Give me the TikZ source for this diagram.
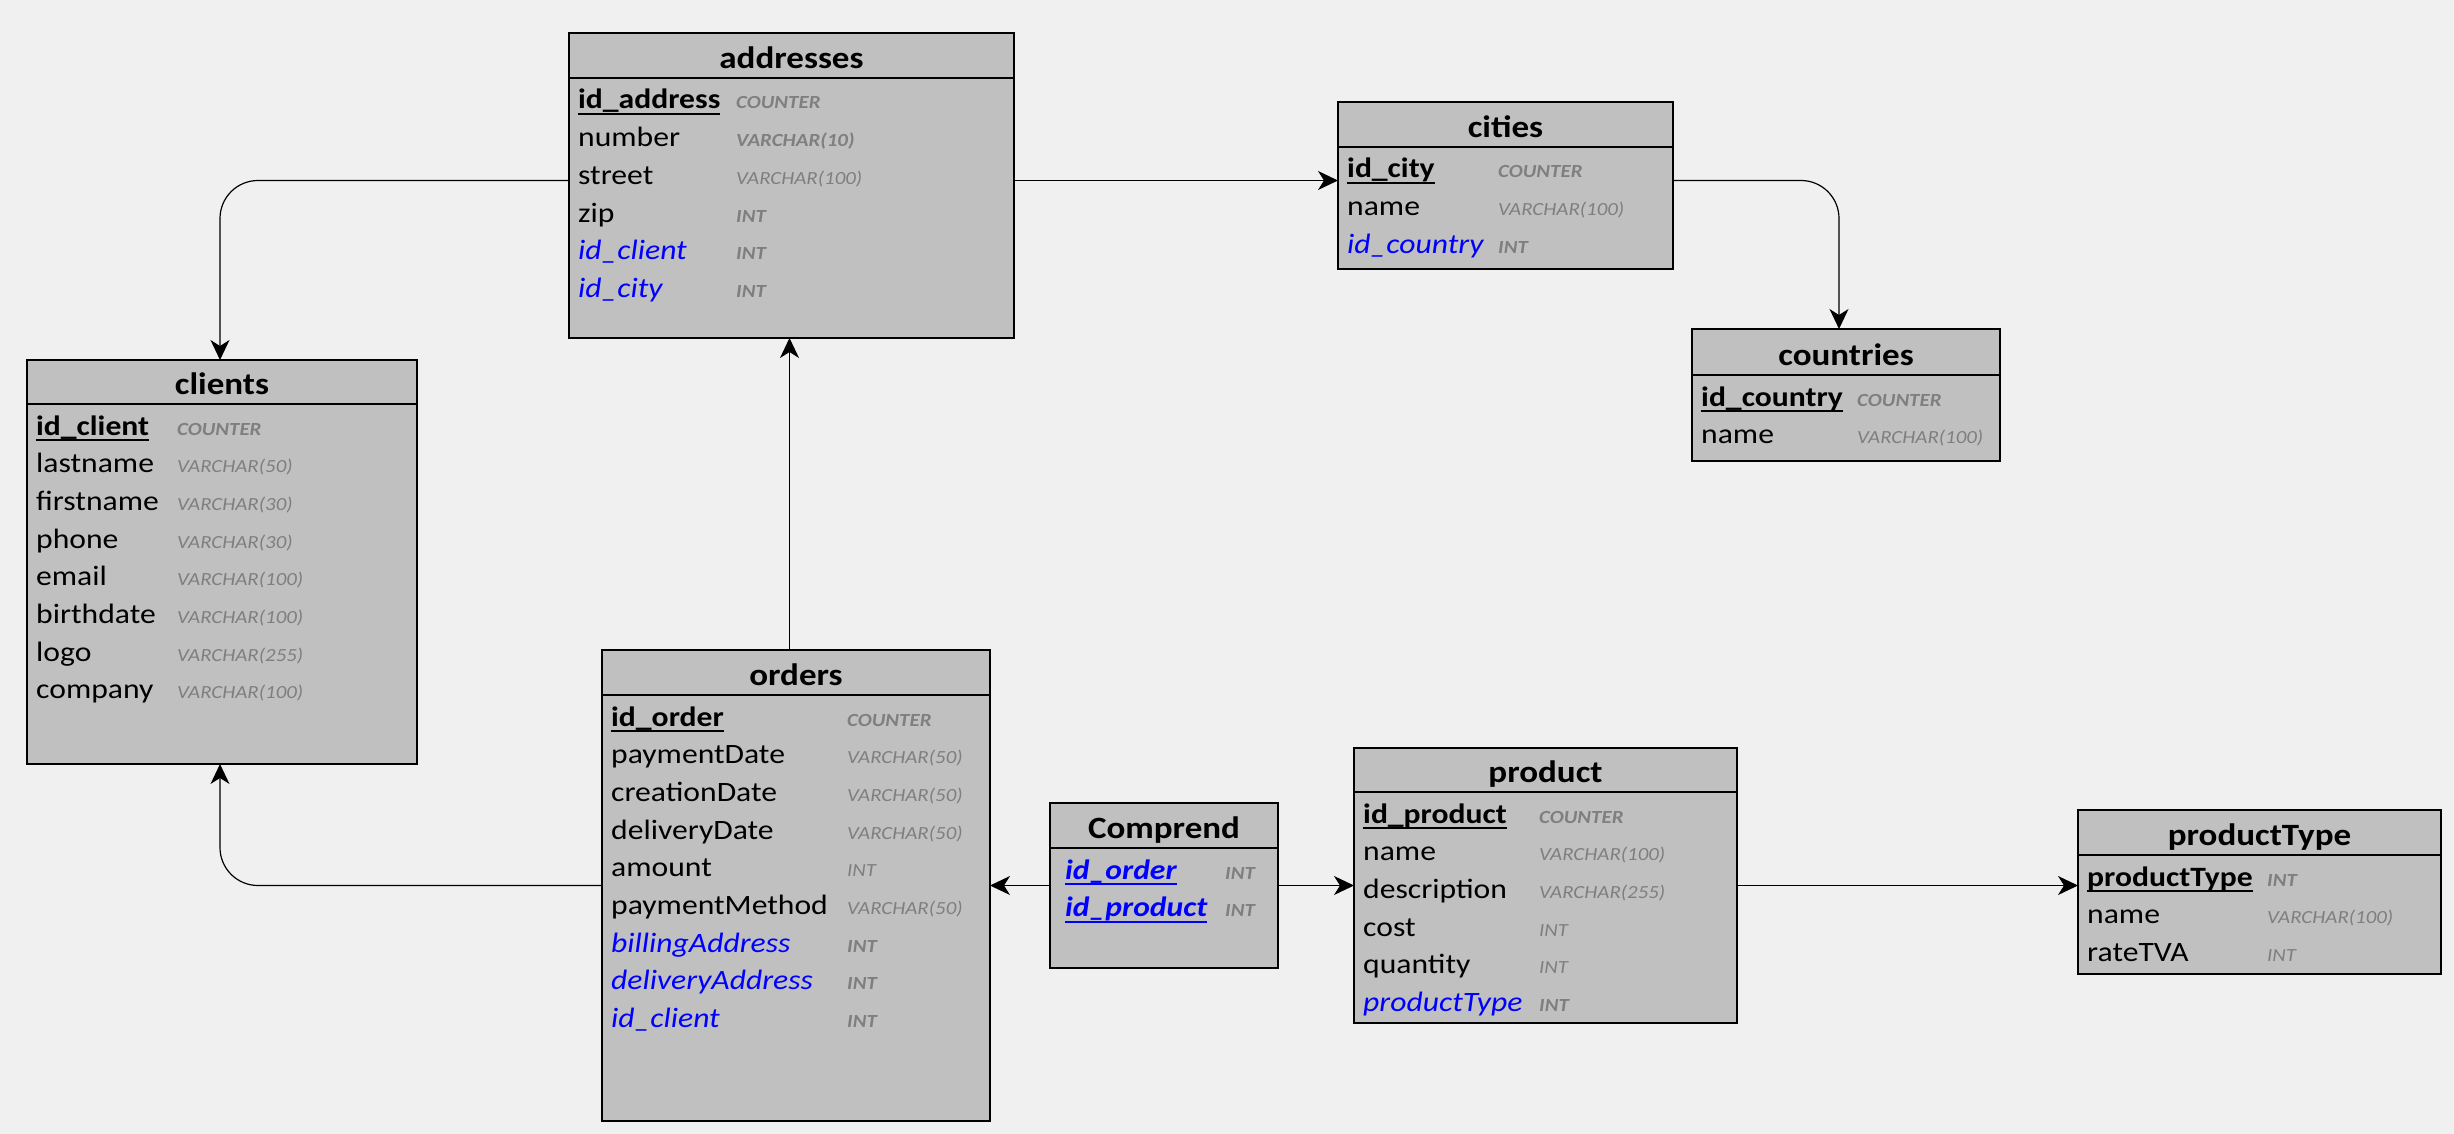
\documentclass[tikz,border=0pt]{standalone}
\usepackage{fontspec}
\setmainfont{Carlito}[FakeStretch=1.13]
\usetikzlibrary{arrows.meta}

\definecolor{canvasbg}{HTML}{F0F0F0}
\definecolor{tablefill}{HTML}{C0C0C0}
\definecolor{typegray}{HTML}{7F7F7F}
\definecolor{fkblue}{HTML}{0000FF}

% underline drawn just below the baseline, as wide as the text
\newcommand\erUL[1]{\setbox0\hbox{#1}\rlap{\rule[-6pt]{\wd0}{2pt}}\box0}
% field kinds: primary key, plain, foreign key, primary+foreign key
\newcommand\erPK[1]{{\bfseries\erUL{#1}}}
\newcommand\erFD[1]{#1}
\newcommand\erFK[1]{{\color{fkblue}\itshape #1}}
\newcommand\erPF[1]{{\color{fkblue}\bfseries\itshape\erUL{#1}}}
% type kinds: required (bold) and optional
\newcommand\erTB[1]{{\bfseries #1}}
\newcommand\erTN[1]{#1}
% left padding of the field column
\newcommand\erPad{9}

\tikzset{
  tbl/.style={draw=black, fill=tablefill, line width=2.6pt, inner sep=0pt, outer sep=0pt, anchor=north west},
  hdr/.style={line width=2pt},
  ttl/.style={font=\fontsize{31}{34}\selectfont\bfseries, inner sep=0pt, anchor=base},
  fld/.style={font=\fontsize{28}{32}\selectfont, inner sep=0pt, anchor=base west},
  typ/.style={font=\fontsize{18.5}{22}\selectfont\itshape, text=typegray, inner sep=0pt, anchor=base west},
  conn/.style={line width=1.2pt, -{Stealth[length=20pt, width=19pt, inset=6pt]}},
}

% #1 name, #2 left, #3 top, #4 right, #5 bottom, #6 header line, #7 type column offset, #8 title, #9 rows
\newcommand\erTable[9]{%
  \node[tbl, minimum width={(#4-#2)*1pt}, minimum height={(#5-#3)*1pt}] (#1) at (#2,#3) {};
  \draw[hdr] (#2,#6) -- (#4,#6);
  \node[ttl] (#1-title) at ({(#2+#4)/2},{#6-9.5}) {#8};
  \foreach \ek/\ef/\et/\ev [count=\ei from 0] in {#9} {
    \node[fld] (#1-f\ei) at ({#2+\erPad},{#6+31+\ei*37.7}) {\ek{\ef}};
    \node[typ] (#1-t\ei) at ({#2+#7},{#6+31+\ei*37.7}) {\et{\ev}};
  }%
}

\begin{document}
\begin{tikzpicture}[x=1pt, y=-1pt]
\fill[canvasbg] (0,0) rectangle (2454,1134);
\useasboundingbox (0,0) rectangle (2454,1134);

\erTable{addresses}{569}{33}{1014}{338}{78}{167}{addresses}{%
  \erPK/id\_address/\erTB/COUNTER,
  \erFD/number/\erTB/VARCHAR(10),
  \erFD/street/\erTN/VARCHAR(100),
  \erFD/zip/\erTB/INT,
  \erFK/id\_client/\erTB/INT,
  \erFK/id\_city/\erTB/INT}

\erTable{clients}{27}{360}{417}{764}{404}{150}{clients}{%
  \erPK/id\_client/\erTB/COUNTER,
  \erFD/lastname/\erTN/VARCHAR(50),
  \erFD/firstname/\erTN/VARCHAR(30),
  \erFD/phone/\erTN/VARCHAR(30),
  \erFD/email/\erTN/VARCHAR(100),
  \erFD/birthdate/\erTN/VARCHAR(100),
  \erFD/logo/\erTN/VARCHAR(255),
  \erFD/company/\erTN/VARCHAR(100)}

\erTable{orders}{602}{650}{990}{1121}{695}{245}{orders}{%
  \erPK/id\_order/\erTB/COUNTER,
  \erFD/paymentDate/\erTN/VARCHAR(50),
  \erFD/creationDate/\erTN/VARCHAR(50),
  \erFD/deliveryDate/\erTN/VARCHAR(50),
  \erFD/amount/\erTN/INT,
  \erFD/paymentMethod/\erTN/VARCHAR(50),
  \erFK/billingAddress/\erTB/INT,
  \erFK/deliveryAddress/\erTB/INT,
  \erFK/id\_client/\erTB/INT}

\renewcommand\erPad{15}
\erTable{comprend}{1050}{803}{1278}{968}{848}{175}{Comprend}{%
  \erPF/id\_order/\erTB/INT,
  \erPF/id\_product/\erTB/INT}
\renewcommand\erPad{9}

\erTable{product}{1354}{748}{1737}{1023}{792}{185}{product}{%
  \erPK/id\_product/\erTB/COUNTER,
  \erFD/name/\erTN/VARCHAR(100),
  \erFD/description/\erTN/VARCHAR(255),
  \erFD/cost/\erTN/INT,
  \erFD/quantity/\erTN/INT,
  \erFK/productType/\erTB/INT}

\erTable{producttype}{2078}{810}{2441}{974}{855}{189}{productType}{%
  \erPK/productType/\erTB/INT,
  \erFD/name/\erTN/VARCHAR(100),
  \erFD/rateTVA/\erTN/INT}

\erTable{cities}{1338}{102}{1673}{269}{147}{160}{cities}{%
  \erPK/id\_city/\erTB/COUNTER,
  \erFD/name/\erTN/VARCHAR(100),
  \erFK/id\_country/\erTB/INT}

\erTable{countries}{1692}{329}{2000}{461}{375}{165}{countries}{%
  \erPK/id\_country/\erTB/COUNTER,
  \erFD/name/\erTN/VARCHAR(100)}

% relations
\draw[conn, rounded corners=38pt] ([yshift=5pt]addresses.west) -| ([xshift=-2pt]clients.north);
\draw[conn] ([yshift=5pt]addresses.east) -- ([yshift=5pt]cities.west);
\draw[conn, rounded corners=38pt] ([yshift=5pt]cities.east) -| ([xshift=-7pt]countries.north);
\draw[conn] ([xshift=-2pt]addresses.south |- orders.north) -- ([xshift=-2pt]addresses.south);
\draw[conn, rounded corners=38pt] (orders.west) -| ([xshift=-2pt]clients.south);
\draw[conn] (comprend.west) -- (orders.east);
\draw[conn] (comprend.east) -- (product.west);
\draw[conn] (product.east) -- (producttype.west |- product.east);
\end{tikzpicture}
\end{document}
